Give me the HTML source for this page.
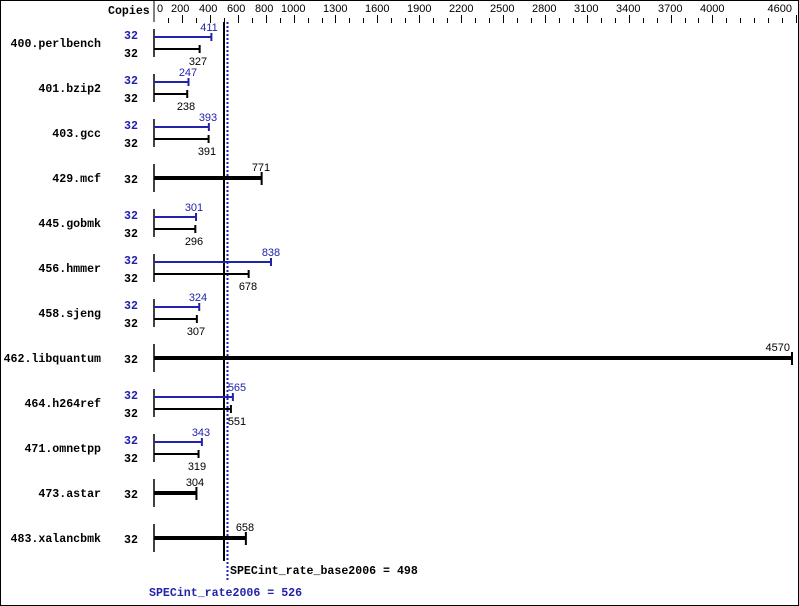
<!DOCTYPE html>
<html><head><meta charset="utf-8"><style>
html,body{margin:0;padding:0;background:#fff}
svg{display:block}
.n{font:bold 11.6px "Liberation Mono",monospace}
.v{font:11px "Liberation Sans",sans-serif}
.t{font:11px "Liberation Sans",sans-serif}
</style></head><body>
<svg width="799" height="606" viewBox="0 0 799 606" xmlns="http://www.w3.org/2000/svg">
<rect x="0.5" y="0.5" width="798" height="605" fill="#fff" stroke="#000"/>
<text x="108" y="14" class="n">Copies</text>
<line x1="154" y1="0" x2="154" y2="22" stroke="#000"/>
<g id="ticks" stroke="#000"></g>
<g class="t">
<text x="157" y="12">0</text><text x="171" y="12">200</text><text x="199" y="12">400</text><text x="227" y="12">600</text><text x="255" y="12">800</text><text x="281" y="12">1000</text><text x="323" y="12">1300</text><text x="365" y="12">1600</text><text x="407" y="12">1900</text><text x="449" y="12">2200</text><text x="490" y="12">2500</text><text x="532" y="12">2800</text><text x="574" y="12">3100</text><text x="616" y="12">3400</text><text x="658" y="12">3700</text><text x="700" y="12">4000</text><text x="792" y="12" text-anchor="end">4600</text>
</g>
<line x1="224" y1="22" x2="224" y2="561" stroke="#000" stroke-width="2"/>
<line x1="227.5" y1="22" x2="227.5" y2="582" stroke="#2222aa" stroke-width="2" stroke-dasharray="2,2"/>
<text x="230" y="574" class="n">SPECint_rate_base2006 = 498</text>
<text x="149" y="596" class="n" fill="#2222aa">SPECint_rate2006 = 526</text>
<g id="rows"></g>
<g class="n" text-anchor="end">
<text x="101" y="47">400.perlbench</text>
<text x="101" y="92">401.bzip2</text>
<text x="101" y="137">403.gcc</text>
<text x="101" y="182">429.mcf</text>
<text x="101" y="227">445.gobmk</text>
<text x="101" y="272">456.hmmer</text>
<text x="101" y="317">458.sjeng</text>
<text x="101" y="362">462.libquantum</text>
<text x="101" y="407">464.h264ref</text>
<text x="101" y="452">471.omnetpp</text>
<text x="101" y="497">473.astar</text>
<text x="101" y="542">483.xalancbmk</text>
</g>
<g class="n">
<text x="124" y="39" fill="#2222aa">32</text><text x="124" y="57">32</text>
<text x="124" y="84" fill="#2222aa">32</text><text x="124" y="102">32</text>
<text x="124" y="129" fill="#2222aa">32</text><text x="124" y="147">32</text>
<text x="124" y="183">32</text>
<text x="124" y="219" fill="#2222aa">32</text><text x="124" y="237">32</text>
<text x="124" y="264" fill="#2222aa">32</text><text x="124" y="282">32</text>
<text x="124" y="309" fill="#2222aa">32</text><text x="124" y="327">32</text>
<text x="124" y="363">32</text>
<text x="124" y="399" fill="#2222aa">32</text><text x="124" y="417">32</text>
<text x="124" y="444" fill="#2222aa">32</text><text x="124" y="462">32</text>
<text x="124" y="498">32</text>
<text x="124" y="543">32</text>
</g>
<g class="v" text-anchor="middle">
<text x="209" y="31" fill="#2222aa">411</text><text x="198" y="65">327</text>
<text x="188" y="76" fill="#2222aa">247</text><text x="186" y="110">238</text>
<text x="208" y="121" fill="#2222aa">393</text><text x="207" y="155">391</text>
<text x="261" y="171">771</text>
<text x="194" y="211" fill="#2222aa">301</text><text x="194" y="245">296</text>
<text x="271" y="256" fill="#2222aa">838</text><text x="248" y="290">678</text>
<text x="198" y="301" fill="#2222aa">324</text><text x="196" y="335">307</text>
<text x="790" y="351" text-anchor="end">4570</text>
<text x="237" y="391" fill="#2222aa">565</text><text x="237" y="425">551</text>
<text x="201" y="436" fill="#2222aa">343</text><text x="197" y="470">319</text>
<text x="195" y="486">304</text>
<text x="245" y="531">658</text>
</g>
<script>
(function(){
var k=(792-154)/4570,ns="http://www.w3.org/2000/svg";
var g=document.getElementById('ticks');
var major=[0,200,400,600,800,1000,1300,1600,1900,2200,2500,2800,3100,3400,3700,4000,4600];
for(var i=1;i<=46;i++){var v=i*100,x=Math.round(154+v*k)+0.5;
var l=document.createElementNS(ns,'line');l.setAttribute('x1',x);l.setAttribute('x2',x);
l.setAttribute('y1',major.indexOf(v)>=0?15:18);l.setAttribute('y2',23);g.appendChild(l);}
var rows=[[43,411,327],[88,247,238],[133,393,391],[178,771],[223,301,296],[268,838,678],[313,324,307],[358,4570],[403,565,551],[448,343,319],[493,304],[538,658]];
var r=document.getElementById('rows');
function ln(x1,y1,x2,y2,c,w){var l=document.createElementNS(ns,'line');l.setAttribute('x1',x1);l.setAttribute('y1',y1);l.setAttribute('x2',x2);l.setAttribute('y2',y2);l.setAttribute('stroke',c);l.setAttribute('stroke-width',w);r.appendChild(l);}
rows.forEach(function(o){var c=o[0];
ln(154,c-14,154,c+14,'#000',1.5);
if(o.length==3){var xb=154+o[1]*k,xk=154+o[2]*k;
ln(154,c-6,xb,c-6,'#2222aa',2);ln(xb,c-10,xb,c-2,'#2222aa',2);
ln(154,c+6,xk,c+6,'#000',2);ln(xk,c+2,xk,c+10,'#000',2);}
else{var x=154+o[1]*k;ln(154,c,x,c,'#000',4);ln(x,c-6,x,c+7,'#000',2);}
});
})();
</script>
</svg>
</body></html>
